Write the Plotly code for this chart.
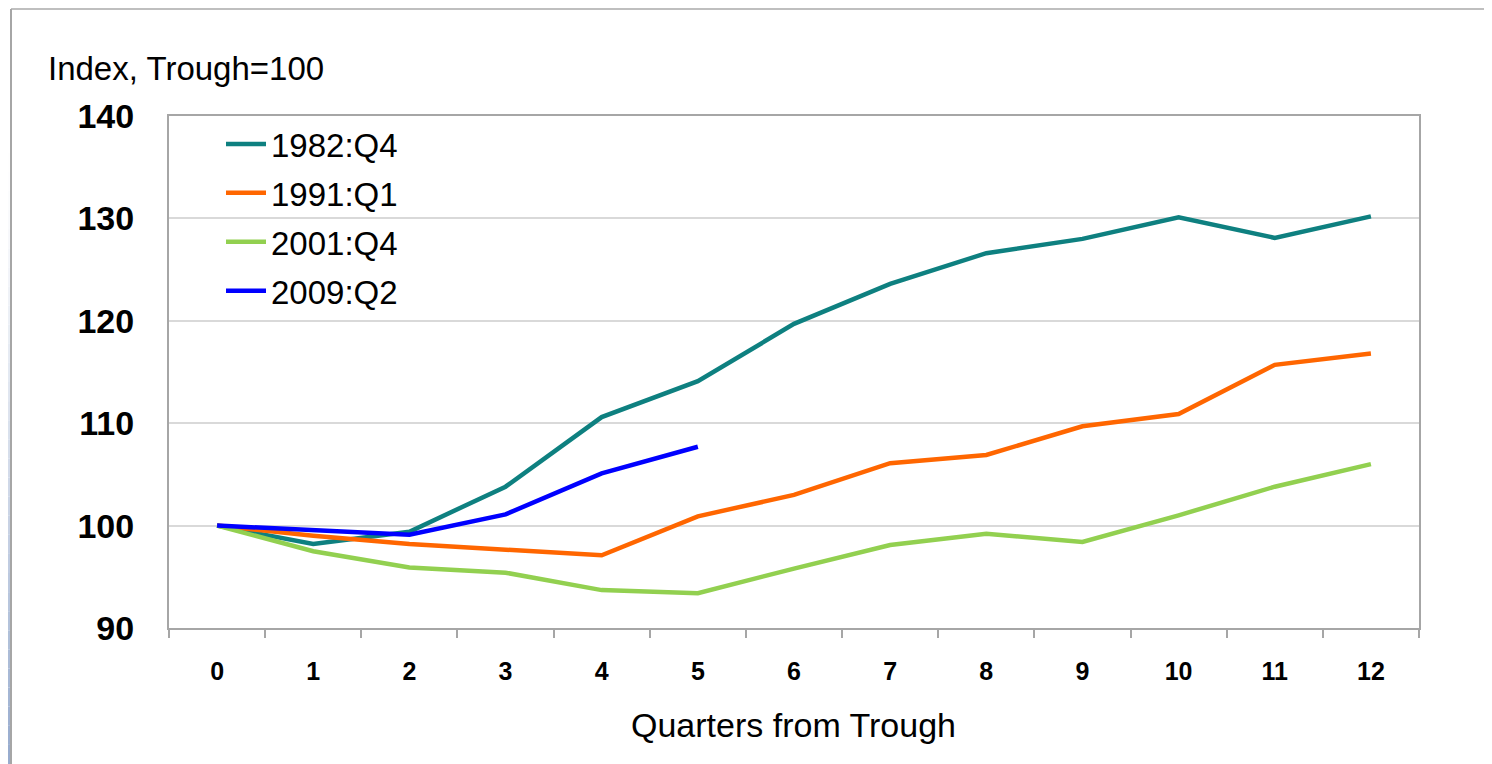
import plotly.graph_objects as go

quarters = [str(q) for q in range(13)]

s1982 = [100, 98.2, 99.4, 103.8, 110.6, 114.1, 119.7, 123.6, 126.6, 128.0, 130.1, 128.1, 130.2]
s1991 = [100, 99.0, 98.2, 97.7, 97.1, 100.9, 103.0, 106.1, 106.9, 109.7, 110.9, 115.7, 116.8]
s2001 = [100, 97.5, 95.9, 95.4, 93.7, 93.4, 95.8, 98.1, 99.2, 98.4, 101.0, 103.8, 106.0]
s2009 = [100, 99.5, 99.1, 101.1, 105.1, 107.7]

series_names = ["1982:Q4", "1991:Q1", "2001:Q4", "2009:Q2"]
series_values = [s1982, s1991, s2001, s2009]
colors = ["#0E8080", "#FF6600", "#92D050", "#0000FF"]

# page body has an 8px margin; figure is placed at (8, 8)
OFF = 8
PAGE_W, PAGE_H = 1492, 764
W, H = PAGE_W - OFF, PAGE_H - OFF
# plot area in page pixels
L, R, T, B = 169, 1419, 116, 628

def px(x):
    return (x - L) / (R - L)

def py(y):
    return (B - y) / (B - T)

FONT = "Liberation Sans, Arial, sans-serif"

fig = go.Figure()
for name, vals, c in zip(series_names, series_values, colors):
    fig.add_trace(go.Scatter(
        x=quarters[:len(vals)], y=vals, mode="lines", name=name,
        legendgroup=name,
        line=dict(color=c, width=4.5),
    ))

shapes = []
# left gradient strip (slide background)
n = 40
top_c = (255, 255, 255)
bot_c = (152, 172, 206)
for i in range(n):
    y0 = i * PAGE_H / n
    y1 = (i + 1) * PAGE_H / n
    t = max(0.0, (i / (n - 1) - 0.2) / 0.8)
    t = t ** 1.3
    col = tuple(int(top_c[k] + (bot_c[k] - top_c[k]) * t) for k in range(3))
    shapes.append(dict(type="rect", xref="paper", yref="paper",
                       x0=px(0), x1=px(11), y0=py(y1), y1=py(y0),
                       line=dict(width=0), fillcolor="rgb(%d,%d,%d)" % col, layer="below"))
# outer chart border
shapes.append(dict(type="line", xref="paper", yref="paper",
                   x0=px(11), x1=px(PAGE_W + 5), y0=py(9), y1=py(9),
                   line=dict(color="#BFBFBF", width=2)))
shapes.append(dict(type="line", xref="paper", yref="paper",
                   x0=px(11), x1=px(11), y0=py(9), y1=py(PAGE_H + 5),
                   line=dict(color="#A6A6A6", width=2)))
# legend box background interrupting the gridline
shapes.append(dict(type="rect", xref="paper", yref="paper",
                   x0=px(197), x1=px(438), y0=py(300), y1=py(125),
                   line=dict(width=0), fillcolor="white", layer="between"))

fig.update_layout(
    width=W, height=H,
    margin=dict(l=L - OFF, r=PAGE_W - R, t=T - OFF, b=PAGE_H - B),
    paper_bgcolor="white", plot_bgcolor="white",
    font=dict(family=FONT, color="black"),
    showlegend=True,
    legend=dict(
        x=px(221), y=py(116), xanchor="left", yanchor="top",
        bgcolor="rgba(255,255,255,0)", borderwidth=0,
        font=dict(family=FONT, size=33, color="black"),
        tracegroupgap=3,
        itemwidth=40,
    ),
    shapes=shapes,
    xaxis=dict(
        type="category", categoryorder="array", categoryarray=quarters,
        range=[-0.5, 12.5],
        showgrid=False, zeroline=False,
        showline=True, linecolor="#A6A6A6", linewidth=2, mirror=True,
        ticks="outside", tickson="boundaries", ticklen=8, tickcolor="#A6A6A6", tickwidth=2,
        tickfont=dict(family=FONT, size=25, color="black", weight="bold"),
        ticklabelstandoff=20,
    ),
    yaxis=dict(
        range=[90, 140], dtick=10, tick0=90,
        showgrid=True, gridcolor="#D9D9D9", gridwidth=2,
        zeroline=False,
        showline=True, linecolor="#A6A6A6", linewidth=2, mirror=True,
        ticks="",
        tickfont=dict(family=FONT, size=34, color="black", weight="bold"),
        ticklabelstandoff=26,
    ),
    annotations=[
        dict(text="Index, Trough=100", xref="paper", yref="paper",
             x=px(46), y=py(68), xanchor="left", yanchor="middle",
             showarrow=False, font=dict(family=FONT, size=33, color="black")),
        dict(text="Quarters from Trough", xref="paper", yref="paper",
             x=px(793), y=py(725), xanchor="center", yanchor="middle",
             showarrow=False, font=dict(family=FONT, size=34, color="black")),
    ],
)

fig.write_html("out.html")
